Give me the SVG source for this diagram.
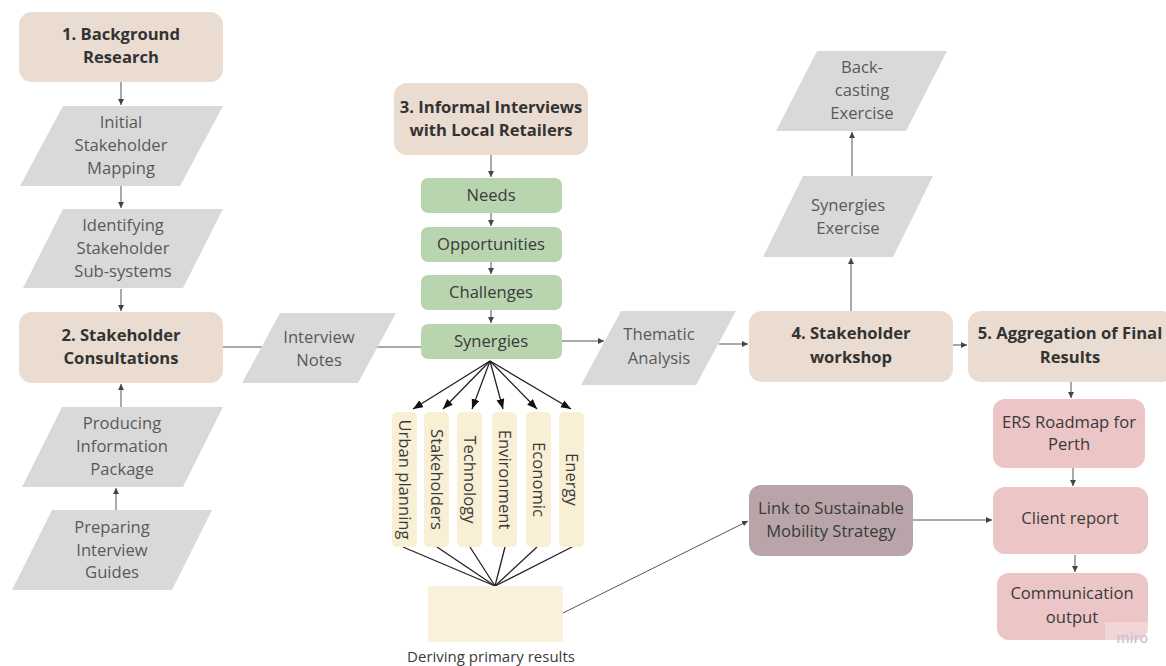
<svg xmlns="http://www.w3.org/2000/svg" width="1166" height="666" viewBox="0 0 1166 666">
  <style>
    .phase { fill: #eadcd0; }
    .data { fill: #d9d9d9; }
    .theme { fill: #b8d5b0; }
    .cat { fill: #f8efd5; }
    .out { fill: #ecc5c6; }
    .link { fill: #b9a5a9; }
    .bold { font-family: "Open Sans", "Liberation Sans", sans-serif; font-weight: 700; font-size: 16.6px; fill: #333; text-anchor: middle; }
    .reg { font-family: "Open Sans", "Liberation Sans", sans-serif; font-size: 16.6px; fill: #595959; text-anchor: middle; }
    .dark { fill: #3a3a3a; }
    .conn { stroke: #555; stroke-width: 1; fill: none; }
    .fan { stroke: #222; stroke-width: 1.3; fill: none; }
  </style>
  <defs>
    <marker id="ah" markerUnits="userSpaceOnUse" markerWidth="7" markerHeight="7" refX="6" refY="3" orient="auto">
      <path d="M0,0 L6,3 L0,6 z" fill="#444"/>
    </marker>
    <marker id="ahBig" markerUnits="userSpaceOnUse" markerWidth="11" markerHeight="9" refX="10" refY="4" orient="auto">
      <path d="M0,0 L10,4 L0,8 z" fill="#111"/>
    </marker>
  </defs>

  <rect width="1166" height="666" fill="#ffffff"/>

  <!-- connectors -->
  <g id="connectors">
    <line class="conn" x1="121" y1="82" x2="121" y2="105" marker-end="url(#ah)"/>
    <line class="conn" x1="121" y1="186" x2="121" y2="208" marker-end="url(#ah)"/>
    <line class="conn" x1="121" y1="289" x2="121" y2="311" marker-end="url(#ah)"/>
    <line class="conn" x1="121" y1="407" x2="121" y2="384" marker-end="url(#ah)"/>
    <line class="conn" x1="116" y1="510" x2="116" y2="488" marker-end="url(#ah)"/>
    <line class="conn" x1="223" y1="347" x2="262" y2="347"/>
    <line class="conn" x1="377" y1="347" x2="421" y2="347"/>
    <line class="conn" x1="491" y1="155" x2="491" y2="177" marker-end="url(#ah)"/>
    <line class="conn" x1="491" y1="213" x2="491" y2="226" marker-end="url(#ah)"/>
    <line class="conn" x1="491" y1="262" x2="491" y2="274" marker-end="url(#ah)"/>
    <line class="conn" x1="491" y1="310" x2="491" y2="323" marker-end="url(#ah)"/>
    <line class="conn" x1="562" y1="341" x2="604" y2="341" marker-end="url(#ah)"/>
    <line class="conn" x1="719" y1="344" x2="748" y2="344" marker-end="url(#ah)"/>
    <line class="conn" x1="953" y1="345" x2="967" y2="345" marker-end="url(#ah)"/>
    <line class="conn" x1="851" y1="311" x2="851" y2="258" marker-end="url(#ah)"/>
    <line class="conn" x1="852" y1="176" x2="852" y2="132" marker-end="url(#ah)"/>
    <line class="conn" x1="1071" y1="382" x2="1071" y2="398" marker-end="url(#ah)"/>
    <line class="conn" x1="1073" y1="468" x2="1073" y2="486" marker-end="url(#ah)"/>
    <line class="conn" x1="1075" y1="555" x2="1075" y2="572" marker-end="url(#ah)"/>
    <line class="conn" x1="913" y1="520" x2="992" y2="520" marker-end="url(#ah)"/>
    <line class="conn" x1="563" y1="613" x2="748" y2="521" marker-end="url(#ah)"/>
    <!-- fan out from Synergies to the themes -->
    <line class="fan" x1="490" y1="361" x2="413" y2="409" marker-end="url(#ahBig)"/>
    <line class="fan" x1="490" y1="361" x2="443" y2="409" marker-end="url(#ahBig)"/>
    <line class="fan" x1="490" y1="361" x2="472" y2="409" marker-end="url(#ahBig)"/>
    <line class="fan" x1="490" y1="361" x2="503" y2="409" marker-end="url(#ahBig)"/>
    <line class="fan" x1="490" y1="361" x2="537" y2="409" marker-end="url(#ahBig)"/>
    <line class="fan" x1="490" y1="361" x2="571" y2="409" marker-end="url(#ahBig)"/>
    <!-- fan in to primary results -->
    <line class="fan" x1="403" y1="547" x2="495" y2="586"/>
    <line class="fan" x1="437" y1="547" x2="495" y2="586"/>
    <line class="fan" x1="470" y1="547" x2="495" y2="586"/>
    <line class="fan" x1="505" y1="547" x2="495" y2="586"/>
    <line class="fan" x1="537" y1="547" x2="495" y2="586"/>
    <line class="fan" x1="572" y1="547" x2="495" y2="586"/>
  </g>

  <!-- phase 1 -->
  <g id="background-research">
    <rect class="phase" x="19" y="12" width="204" height="70" rx="13"/>
    <text class="bold" x="121" y="40">1. Background</text>
    <text class="bold" x="121" y="63">Research</text>
  </g>
  <g id="initial-mapping">
    <polygon class="data" points="63,106 223,106 180,186 20,186"/>
    <text class="reg" x="121" y="128">Initial</text>
    <text class="reg" x="121" y="151">Stakeholder</text>
    <text class="reg" x="121" y="174">Mapping</text>
  </g>
  <g id="sub-systems">
    <polygon class="data" points="63,209 223,209 183,288 23,288"/>
    <text class="reg" x="123" y="231">Identifying</text>
    <text class="reg" x="123" y="254">Stakeholder</text>
    <text class="reg" x="123" y="277">Sub-systems</text>
  </g>

  <!-- phase 2 -->
  <g id="stakeholder-consultations">
    <rect class="phase" x="19" y="312" width="204" height="71" rx="13"/>
    <text class="bold" x="121" y="341">2. Stakeholder</text>
    <text class="bold" x="121" y="364">Consultations</text>
  </g>
  <g id="information-package">
    <polygon class="data" points="62,407 223,407 183,487 22,487"/>
    <text class="reg" x="122" y="429">Producing</text>
    <text class="reg" x="122" y="452">Information</text>
    <text class="reg" x="122" y="475">Package</text>
  </g>
  <g id="interview-guides">
    <polygon class="data" points="52,510 212,510 172,590 12,590"/>
    <text class="reg" x="112" y="533">Preparing</text>
    <text class="reg" x="112" y="556">Interview</text>
    <text class="reg" x="112" y="578">Guides</text>
  </g>
  <g id="interview-notes">
    <polygon class="data" points="280,313 396,313 358,383 242,383"/>
    <text class="reg" x="319" y="343">Interview</text>
    <text class="reg" x="319" y="366">Notes</text>
  </g>

  <!-- phase 3 -->
  <g id="informal-interviews">
    <rect class="phase" x="394" y="83" width="194" height="72" rx="13"/>
    <text class="bold" x="491" y="113">3. Informal Interviews</text>
    <text class="bold" x="491" y="136">with Local Retailers</text>
  </g>
  <g id="needs">
    <rect class="theme" x="421" y="178" width="141" height="35" rx="7"/>
    <text class="reg dark" x="491" y="201">Needs</text>
  </g>
  <g id="opportunities">
    <rect class="theme" x="421" y="227" width="141" height="35" rx="7"/>
    <text class="reg dark" x="491" y="250">Opportunities</text>
  </g>
  <g id="challenges">
    <rect class="theme" x="421" y="275" width="141" height="35" rx="7"/>
    <text class="reg dark" x="491" y="298">Challenges</text>
  </g>
  <g id="synergies">
    <rect class="theme" x="421" y="324" width="141" height="35" rx="7"/>
    <text class="reg dark" x="491" y="347">Synergies</text>
  </g>

  <!-- themes -->
  <g id="urban-planning">
    <rect class="cat" x="392" y="412" width="25" height="135" rx="5"/>
    <text class="reg dark" transform="translate(404.5,479.5) rotate(90)" y="5.5">Urban planning</text>
  </g>
  <g id="stakeholders">
    <rect class="cat" x="424" y="412" width="25" height="135" rx="5"/>
    <text class="reg dark" transform="translate(436.5,479.5) rotate(90)" y="5.5">Stakeholders</text>
  </g>
  <g id="technology">
    <rect class="cat" x="457" y="412" width="25" height="135" rx="5"/>
    <text class="reg dark" transform="translate(469.5,479.5) rotate(90)" y="5.5">Technology</text>
  </g>
  <g id="environment">
    <rect class="cat" x="492" y="412" width="25" height="135" rx="5"/>
    <text class="reg dark" transform="translate(504.5,479.5) rotate(90)" y="5.5">Environment</text>
  </g>
  <g id="economic">
    <rect class="cat" x="526" y="412" width="25" height="135" rx="5"/>
    <text class="reg dark" transform="translate(538.5,479.5) rotate(90)" y="5.5">Economic</text>
  </g>
  <g id="energy">
    <rect class="cat" x="559" y="412" width="25" height="135" rx="5"/>
    <text class="reg dark" transform="translate(571.5,479.5) rotate(90)" y="5.5">Energy</text>
  </g>

  <g id="primary-results">
    <rect x="428" y="586" width="135" height="56" fill="#faf0db"/>
    <text class="reg dark" x="491" y="662" style="font-size:15px">Deriving primary results</text>
  </g>

  <g id="thematic-analysis">
    <polygon class="data" points="621,311 736,311 696,385 581,385"/>
    <text class="reg" x="659" y="340">Thematic</text>
    <text class="reg" x="659" y="364">Analysis</text>
  </g>

  <!-- phase 4 -->
  <g id="stakeholder-workshop">
    <rect class="phase" x="749" y="311" width="204" height="71" rx="13"/>
    <text class="bold" x="851" y="339">4. Stakeholder</text>
    <text class="bold" x="851" y="363">workshop</text>
  </g>
  <g id="synergies-exercise">
    <polygon class="data" points="803,176 933,176 893,257 763,257"/>
    <text class="reg" x="848" y="211">Synergies</text>
    <text class="reg" x="848" y="234">Exercise</text>
  </g>
  <g id="backcasting-exercise">
    <polygon class="data" points="817,51 947,51 906,131 776,131"/>
    <text class="reg" x="862" y="73">Back-</text>
    <text class="reg" x="862" y="96">casting</text>
    <text class="reg" x="862" y="119">Exercise</text>
  </g>

  <!-- phase 5 -->
  <g id="aggregation">
    <rect class="phase" x="968" y="311" width="206" height="71" rx="13"/>
    <text class="bold" x="1070" y="339">5. Aggregation of Final</text>
    <text class="bold" x="1070" y="363">Results</text>
  </g>
  <g id="ers-roadmap">
    <rect class="out" x="993" y="399" width="152" height="69" rx="12"/>
    <text class="reg dark" x="1069" y="428">ERS Roadmap for</text>
    <text class="reg dark" x="1069" y="450">Perth</text>
  </g>
  <g id="client-report">
    <rect class="out" x="993" y="487" width="155" height="67" rx="12"/>
    <text class="reg dark" x="1070" y="524">Client report</text>
  </g>
  <g id="communication-output">
    <rect class="out" x="997" y="573" width="151" height="67" rx="12"/>
    <text class="reg dark" x="1072" y="599">Communication</text>
    <text class="reg dark" x="1072" y="623">output</text>
    <rect x="1105" y="622" width="44" height="25" fill="#ffffff" opacity="0.3"/>
    <text x="1148" y="643" text-anchor="end" font-family="Open Sans, Liberation Sans, sans-serif" font-size="14" font-weight="600" fill="#c9c3d3">miro</text>
  </g>

  <g id="mobility-strategy">
    <rect class="link" x="749" y="485" width="164" height="71" rx="12"/>
    <text class="reg dark" x="831" y="514">Link to Sustainable</text>
    <text class="reg dark" x="831" y="537">Mobility Strategy</text>
  </g>
</svg>
